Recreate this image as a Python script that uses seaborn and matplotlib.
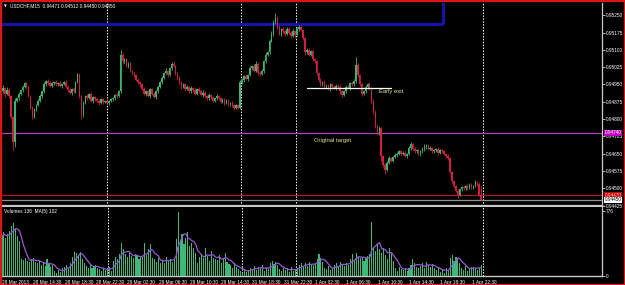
import numpy as np
import pandas as pd
import matplotlib
matplotlib.use("Agg")
import matplotlib.pyplot as plt
import matplotlib.transforms as mtransforms
from matplotlib.patches import Rectangle
import seaborn as sns

# ---------------- data (prices in points above 0.94000) ----------------
first_open_pts = 910
close_pts = [
    920, 935, 910, 925, 900, 810, 700, 880, 890, 910,
    925, 940, 955, 940, 900, 850, 810, 840, 860, 880,
    900, 920, 950, 965, 955, 945, 955, 960, 950, 958,
    945, 952, 960, 940, 925, 915, 930, 920, 960, 995,
    900, 820, 870, 900, 890, 910, 880, 895, 885, 880,
    870, 885, 875, 880, 870, 878, 885, 890, 905, 900,
    920, 1080, 1050, 1060, 1030, 1040, 1010, 1000, 990, 970,
    960, 950, 930, 910, 920, 900, 930, 910, 895, 920,
    940, 960, 980, 1000, 1010, 990, 1020, 1040, 1030, 1000,
    980, 960, 940, 950, 930, 940, 920, 935, 925, 910,
    930, 920, 905, 915, 900, 890, 905, 895, 880, 890,
    900, 890, 875, 885, 870, 880, 865, 870, 860, 850,
    860, 850, 960, 970, 985, 975, 990, 1020, 1030, 1010,
    1040, 1000, 995, 1010, 1050, 1080, 1090, 1140, 1170, 1220,
    1240, 1200, 1170, 1190, 1180, 1170, 1190, 1175, 1160, 1180,
    1165, 1190, 1200, 1185, 1150, 1090, 1100, 1080, 1095, 1060,
    1050, 1000, 970, 950, 960, 940, 945, 930, 950, 940,
    935, 945, 940, 920, 905, 920, 940, 935, 955, 950,
    965, 1035, 990, 950, 910, 920, 940, 950, 935, 880,
    830, 770, 740, 760, 640, 600, 580, 610, 630, 620,
    635, 645, 650, 660, 650, 655, 640, 650, 675, 690,
    670, 660, 665, 650, 660, 670, 680, 685, 670, 675,
    660, 665, 670, 655, 665, 660, 650, 640, 630, 570,
    530, 510, 490, 470, 495, 505, 500, 510, 500, 515,
    505, 510, 525, 520, 471, 450,
]
upper_wick = [
    10, 14, 6, 12, 8, 5, 4, 10, 6, 8,
    5, 9, 7, 4, 8, 6, 5, 9, 7, 5,
    8, 6, 10, 5, 7, 9, 4, 6, 8, 5,
    7, 6, 5, 8, 6, 10, 4, 7, 5, 5,
    0, 6, 8, 5, 7, 4, 9, 6, 5, 8,
    6, 5, 7, 4, 8, 5, 6, 7, 5, 8,
    6, 20, 8, 6, 5, 7, 9, 4, 6, 5,
    8, 6, 5, 9, 4, 7, 6, 5, 8, 6,
    7, 5, 9, 6, 12, 5, 8, 6, 10, 5,
    6, 8, 5, 7, 6, 9, 5, 7, 6, 8,
    5, 7, 6, 9, 5, 6, 8, 5, 7, 6,
    8, 5, 6, 7, 5, 9, 6, 5, 8, 6,
    5, 7, 10, 8, 6, 9, 7, 12, 6, 8,
    10, 7, 9, 6, 8, 10, 7, 9, 12, 10,
    20, 8, 10, 7, 9, 6, 10, 8, 7, 9,
    6, 8, 10, 7, 5, 6, 8, 7, 6, 9,
    5, 7, 6, 8, 5, 9, 6, 7, 5, 8,
    6, 5, 7, 6, 8, 5, 7, 9, 6, 10,
    8, 35, 9, 6, 7, 8, 6, 7, 9, 5,
    6, 8, 7, 9, 5, 6, 8, 7, 9, 6,
    5, 7, 6, 8, 5, 7, 6, 5, 9, 10,
    6, 8, 5, 7, 6, 8, 10, 7, 6, 8,
    5, 7, 6, 8, 5, 7, 6, 5, 8, 6,
    5, 7, 6, 5, 8, 6, 9, 5, 7, 6,
    8, 6, 9, 7, 6, 41,
]
lower_wick = [
    12, 8, 15, 6, 10, 10, 34, 20, 6, 8,
    5, 7, 6, 9, 5, 8, 10, 6, 7, 5,
    6, 8, 5, 7, 9, 6, 5, 8, 6, 7,
    5, 9, 6, 7, 8, 5, 10, 6, 7, 5,
    8, 20, 10, 6, 8, 5, 7, 9, 6, 5,
    7, 6, 8, 5, 6, 9, 5, 7, 6, 8,
    5, 6, 9, 7, 6, 8, 5, 7, 9, 6,
    7, 9, 6, 5, 10, 6, 8, 7, 5, 6,
    6, 5, 8, 7, 6, 9, 5, 8, 6, 7,
    9, 6, 8, 5, 7, 6, 9, 5, 8, 6,
    7, 6, 5, 8, 9, 6, 7, 10, 5, 6,
    6, 8, 7, 5, 9, 6, 7, 8, 6, 10,
    7, 5, 6, 8, 7, 6, 9, 5, 8, 7,
    6, 9, 7, 5, 8, 6, 7, 9, 6, 8,
    6, 9, 7, 8, 6, 9, 5, 8, 10, 6,
    7, 6, 8, 5, 9, 10, 6, 8, 7, 6,
    8, 9, 7, 6, 8, 5, 9, 6, 8, 7,
    6, 8, 7, 10, 9, 6, 8, 5, 7, 6,
    5, 8, 7, 6, 9, 7, 5, 8, 6, 9,
    10, 8, 7, 9, 20, 8, 20, 7, 6, 8,
    7, 5, 8, 6, 9, 7, 5, 8, 6, 7,
    6, 8, 7, 5, 9, 6, 7, 8, 6, 5,
    7, 6, 8, 9, 5, 7, 6, 8, 7, 9,
    8, 7, 6, 10, 5, 8, 7, 6, 9, 5,
    7, 6, 5, 8, 6, 0,
]
volume = [
    480, 520, 450, 500, 540, 600, 627, 560, 480, 420,
    200, 190, 210, 180, 170, 200, 215, 170, 150, 190,
    130, 160, 120, 200, 140, 110, 130, 60, 40, 70,
    50, 90, 110, 130, 90, 150, 230, 290, 280, 250,
    290, 200, 160, 120, 100, 140, 90, 110, 130, 100,
    80, 60, 100, 70, 90, 110, 60, 180, 230, 200,
    260, 390, 320, 260, 230, 270, 240, 220, 260, 250,
    200, 230, 240, 390, 250, 320, 380, 210, 200, 170,
    220, 150, 190, 160, 230, 180, 200, 170, 210, 440,
    760, 420, 500, 380, 450, 520, 360, 400, 330, 280,
    160, 230, 260, 210, 330, 240, 180, 300, 220, 200,
    190, 250, 160, 210, 280, 170, 140, 130, 90, 150,
    110, 80, 60, 40, 80, 50, 70, 100, 80, 120,
    70, 110, 90, 130, 60, 100, 80, 150, 180, 140,
    170, 130, 80, 60, 100, 70, 90, 50, 110, 60,
    80, 100, 130, 160, 110, 150, 120, 170, 140, 130,
    150, 200, 260, 220, 170, 100, 80, 120, 70, 90,
    130, 150, 110, 170, 140, 120, 160, 130, 200, 260,
    180, 270, 230, 210, 230, 180, 220, 240, 260, 640,
    350, 300, 380, 320, 270, 340, 250, 200, 330, 280,
    180, 90, 60, 110, 80, 70, 100, 60, 90, 130,
    200, 150, 110, 90, 120, 150, 100, 170, 130, 110,
    140, 90, 70, 100, 50, 80, 40, 90, 60, 210,
    250, 180, 230, 200, 160, 100, 70, 120, 60, 90,
    110, 110, 90, 74, 100, 136,
]
date_labels = ["28 Mar 2013", "28 Mar 14:30", "28 Mar 18:30", "28 Mar 22:30",
               "29 Mar 02:30", "29 Mar 06:30", "29 Mar 10:30", "29 Mar 14:30",
               "31 Mar 18:30", "31 Mar 22:30", "1 Apr 02:30", "1 Apr 06:30",
               "1 Apr 10:30", "1 Apr 14:30", "1 Apr 18:30", "1 Apr 22:30"]
date_label_bars = [0, 16, 32, 48, 64, 80, 96, 112, 128, 144, 160, 176, 192, 208, 224, 240]
price_ticks = [0.95250, 0.95175, 0.95100, 0.95025, 0.94950, 0.94875, 0.94800,
               0.94725, 0.94650, 0.94575, 0.94500, 0.94425]
separator_bars = [54, 122.4, 150.5, 246]
blue_zone_price = 0.95212
blue_zone_end_bar = 225.5
target_price = 0.94740
stop_price = 0.94470
bid_price = 0.94450
early_exit_price = 0.94935
early_exit_bars = (156, 199)
volume_max_label = 776
header = "USDCHF,M15  0.94471 0.94512 0.94450 0.94450"
volume_header = "Volumes 136  MA(5) 102"

# ---------------- derived ----------------
close = np.array(close_pts) / 1e5 + 0.94
opens = np.concatenate([[first_open_pts / 1e5 + 0.94], close[:-1]])
n = min(len(close), len(upper_wick), len(lower_wick))
close = close[:n]
opens = opens[:n]
idx = np.arange(n)
high = np.maximum(opens, close) + np.array(upper_wick[:n]) / 1e5
low = np.minimum(opens, close) - np.array(lower_wick[:n]) / 1e5
bull = close >= opens

vdf = pd.DataFrame({"bar": np.arange(len(volume)), "vol": volume})
vdf["ma"] = vdf["vol"].rolling(5, min_periods=1).mean()

# ---------------- style ----------------
sns.set_theme(style="dark")
plt.rcParams["font.family"] = ["Liberation Sans", "DejaVu Sans"]
BG = "black"
GREEN = "#3cb371"
VGREEN = "#40b878"
RED = "#d0203c"
TXT = "white"
FS = 3.4

W, H = 625, 285
fig = plt.figure(figsize=(W / 100, H / 100), dpi=100, facecolor=BG)
L, R = 2, 602
ax = fig.add_axes([L / W, 1 - 206 / H, (R - L) / W, 203 / H], facecolor=BG)
axv = fig.add_axes([L / W, 1 - 276 / H, (R - L) / W, 69 / H], facecolor=BG)

xlim = (0.5, 0.5 + (R - L) / 1.96)

# candles
ax.vlines(idx, low, high, colors=np.where(bull, GREEN, RED), lw=0.6, zorder=3)
body_h = np.maximum(np.abs(close - opens), 0.00003)
ax.bar(idx, body_h, bottom=np.minimum(opens, close), width=0.8,
       color=np.where(bull, GREEN, RED), linewidth=0, zorder=4)

# horizontal objects
ax.axhline(target_price, color="#b040b0", lw=0.9, zorder=2)
ax.axhline(stop_price, color="#b01828", lw=0.9, zorder=2)
ax.axhline(bid_price, color="#909090", lw=0.9, zorder=2)
ax.plot([xlim[0] - 5, blue_zone_end_bar], [blue_zone_price, blue_zone_price],
        color="#1414a8", lw=2.2, zorder=2, solid_capstyle="butt")
ax.plot([blue_zone_end_bar, blue_zone_end_bar], [blue_zone_price, 0.96],
        color="#1414a8", lw=2.2, zorder=2, solid_capstyle="butt")
ax.plot(list(early_exit_bars), [early_exit_price, early_exit_price],
        color="white", lw=0.9, zorder=5)

ax.text(192.9, 0.949175, "Early exit", color="#e6e6a0", fontsize=4.2,
        va="center", ha="left", zorder=6)
ax.text(159.7, 0.94709, "Original target", color="#e6e6a0", fontsize=4.2,
        va="center", ha="left", zorder=6)

# separators
for a in (ax, axv):
    for s in separator_bars:
        a.axvline(s, color="white", lw=0.7, ls=(0, (1.5, 1.5)), zorder=1)

ax.set_xlim(*xlim)
ax.set_ylim(0.944233, 0.953033)

# volume
sns.barplot(data=vdf, x="bar", y="vol", native_scale=True, color=VGREEN,
            saturation=1, width=0.55, linewidth=0, errorbar=None, ax=axv, zorder=3)
for p in axv.patches:
    p.set_antialiased(False)
sns.lineplot(data=vdf, x="bar", y="ma", color="#9a58d0", lw=0.9, ax=axv, zorder=4)
axv.set_xlim(*xlim)
axv.set_ylim(0, 824)
axv.set_xlabel("")
axv.set_ylabel("")

# axes decoration
for a in (ax, axv):
    a.grid(False)
    for sp in ("top", "left"):
        a.spines[sp].set_visible(False)
    a.spines["right"].set_color("#c8c8c8")
    a.spines["right"].set_linewidth(0.9)
    a.spines["bottom"].set_color("#c8c8c8")
    a.yaxis.tick_right()
    a.tick_params(axis="y", colors=TXT, labelsize=FS, length=2, width=0.5, pad=1)
ax.spines["bottom"].set_linewidth(1.6)
axv.spines["bottom"].set_linewidth(1.0)

ax.set_xticks([])
ax.set_yticks(price_ticks)
ax.set_yticklabels([f"{v:.5f}" for v in price_ticks])

axv.set_yticks([volume_max_label, 0])
axv.set_yticklabels([str(volume_max_label), "0"])
axv.set_xticks(date_label_bars)
axv.set_xticklabels(date_labels, ha="left")
axv.tick_params(axis="x", colors=TXT, labelsize=FS, length=2, width=0.5, pad=1)

# price boxes on the right axis
trans = mtransforms.blended_transform_factory(ax.transAxes, ax.transData)
ax.text(1.004, target_price, "0.94740", transform=trans, fontsize=FS, color="white",
        va="center", ha="left", zorder=10,
        bbox=dict(boxstyle="square,pad=0.15", fc="#c000c0", ec="none"), clip_on=False)
ax.text(1.004, stop_price, "0.94470", transform=trans, fontsize=FS, color="#ffcccc",
        va="center", ha="left", zorder=10,
        bbox=dict(boxstyle="square,pad=0.15", fc="#c00000", ec="none"), clip_on=False)
ax.text(1.004, bid_price, "0.94450", transform=trans, fontsize=FS, color="black",
        va="center", ha="left", zorder=11,
        bbox=dict(boxstyle="square,pad=0.15", fc="white", ec="none"), clip_on=False)

# header texts
fig.text(4 / W, 1 - 6 / H, "\u25BC", color=TXT, fontsize=2.6, va="center", ha="left",
         family="DejaVu Sans")
fig.text(10 / W, 1 - 6 / H, header, color=TXT, fontsize=FS, va="center", ha="left")
fig.text(4 / W, 1 - 212 / H, volume_header, color=TXT, fontsize=FS, va="center", ha="left")

# red frame
fig.patches.append(Rectangle((0, 0), 1, 1, transform=fig.transFigure, fill=False,
                             edgecolor="#d81818", lw=2.4, zorder=20))

fig.savefig("out.png", dpi=100, facecolor=BG)
